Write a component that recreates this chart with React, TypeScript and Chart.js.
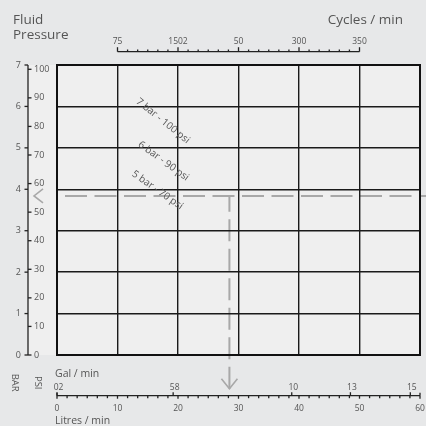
import React, { useEffect, useRef } from "react";
import { Chart, registerables } from "chart.js";

Chart.register(...registerables);

// ---- data ----
const litresTicks = [0, 10, 20, 30, 40, 50, 60];
const litresLabels = ["0", "10", "20", "30", "40", "50", "60"];
const litresMinorPerMajor = 6;
const barTicks = [0, 1, 2, 3, 4, 5, 6, 7];
const barLabels = ["0", "1", "2", "3", "4", "5", "6", "7"];
const psiTicks = [0, 10, 20, 30, 40, 50, 60, 70, 80, 90, 100];
const psiLabels = ["0", "10", "20", "30", "40", "50", "60", "70", "80", "90", "100"];
const psiPerBar = 14.5;
const cycleLabels = ["75", "1502", "50", "300", "350"];
const cyclePositions = [10, 20, 30, 40, 50]; // placed on the litres scale
const cycleMinorPerMajor = 6;
const galLabels = ["02", "58", "10", "13", "15"];
const galPositions = [0, 19.2, 38.8, 48.5, 58.4]; // litres equivalent
const curveLabels = ["7 bar - 100 psi", "6 bar - 90 psi", "5 bar - 70 psi"];
const curveFlow = [17.5, 17.6, 16.6];
const curvePressure = [5.65, 4.68, 3.98];
const curveAngles = [39, 36, 35];
const readingFlow = 28.5;
const readingPressure = 3.84;

const FONT = "'Open Sans', 'Noto Sans', sans-serif";
const TEXT = "#555";
const AXIS = "#222";

const diagram = {
  id: "diagram",
  beforeDraw(chart: any) {
    const { ctx, chartArea: a } = chart;
    const x = chart.scales.x;
    const y = chart.scales.y;
    ctx.save();
    ctx.fillStyle = "#e7e8e9";
    ctx.fillRect(0, 0, chart.width, chart.height);
    const axisX = a.left - 29;
    ctx.fillStyle = "#efefef";
    ctx.fillRect(axisX, a.top, a.right - axisX, a.bottom - a.top);

    // reading lines
    const rx = x.getPixelForValue(readingFlow);
    const ry = y.getPixelForValue(readingPressure);
    const bottomAxisY = a.bottom + 40.7;
    const tipY = bottomAxisY - 7;
    const tipX = axisX + 6;
    ctx.strokeStyle = "#a8a8a8";
    ctx.lineWidth = 2;
    ctx.setLineDash([22, 7.5]);
    ctx.beginPath();
    ctx.moveTo(a.left + 8, ry);
    ctx.lineTo(chart.width, ry);
    ctx.stroke();
    ctx.beginPath();
    ctx.moveTo(rx, tipY);
    ctx.lineTo(rx, ry);
    ctx.stroke();
    ctx.setLineDash([]);
    ctx.lineWidth = 1.6;
    ctx.beginPath();
    ctx.moveTo(tipX + 9, ry - 7);
    ctx.lineTo(tipX, ry);
    ctx.lineTo(tipX + 9, ry + 7);
    ctx.stroke();
    ctx.beginPath();
    ctx.moveTo(rx - 8, tipY - 10);
    ctx.lineTo(rx, tipY);
    ctx.lineTo(rx + 8, tipY - 10);
    ctx.stroke();
    ctx.restore();
  },
  afterDraw(chart: any) {
    const { ctx, chartArea: a } = chart;
    const x = chart.scales.x;
    const y = chart.scales.y;
    ctx.save();
    // outer border
    ctx.strokeStyle = "#111";
    ctx.lineWidth = 2;
    ctx.strokeRect(a.left, a.top, a.right - a.left, a.bottom - a.top);

    const line = (x1: number, y1: number, x2: number, y2: number) => {
      ctx.beginPath();
      ctx.moveTo(x1, y1);
      ctx.lineTo(x2, y2);
      ctx.stroke();
    };

    // ---- left axis (BAR / PSI) ----
    const axisX = a.left - 29;
    ctx.strokeStyle = AXIS;
    ctx.lineWidth = 1.3;
    line(axisX, y.getPixelForValue(barTicks[barTicks.length - 1]), axisX, y.getPixelForValue(0));
    ctx.fillStyle = TEXT;
    ctx.font = `9px ${FONT}`;
    ctx.textBaseline = "middle";
    barTicks.forEach((b, i) => {
      const py = y.getPixelForValue(b);
      line(axisX - 3.5, py, axisX, py);
      ctx.textAlign = "right";
      ctx.fillText(barLabels[i], axisX - 7, py);
    });
    psiTicks.forEach((p, i) => {
      const py = y.getPixelForValue(p / psiPerBar);
      line(axisX, py, axisX + 3.5, py);
      ctx.textAlign = "left";
      ctx.fillText(psiLabels[i], axisX + 6, py);
    });

    // ---- top axis (Cycles / min) ----
    const topY = a.top - 13.3;
    const c0 = x.getPixelForValue(cyclePositions[0]);
    const c1 = x.getPixelForValue(cyclePositions[cyclePositions.length - 1]);
    line(c0, topY, c1, topY);
    cyclePositions.forEach((c, i) => {
      const px = x.getPixelForValue(c);
      line(px, topY, px, topY - 4.5);
      if (i < cyclePositions.length - 1) {
        const step = (cyclePositions[i + 1] - c) / cycleMinorPerMajor;
        for (let k = 1; k < cycleMinorPerMajor; k++) {
          const mx = x.getPixelForValue(c + k * step);
          line(mx, topY, mx, topY - 2.2);
        }
      }
    });
    ctx.font = `8.5px ${FONT}`;
    ctx.textAlign = "center";
    ctx.textBaseline = "alphabetic";
    cyclePositions.forEach((c, i) => {
      ctx.fillText(cycleLabels[i], x.getPixelForValue(c), topY - 7.5);
    });

    // ---- bottom axis (Gal / Litres) ----
    const botY = a.bottom + 40.7;
    line(x.getPixelForValue(litresTicks[0]), botY, x.getPixelForValue(litresTicks[litresTicks.length - 1]), botY);
    litresTicks.forEach((l, i) => {
      const px = x.getPixelForValue(l);
      line(px, botY, px, botY + 3);
      if (i === 0 || i === litresTicks.length - 1) line(px, botY - 3, px, botY);
      if (i < litresTicks.length - 1) {
        const step = (litresTicks[i + 1] - l) / litresMinorPerMajor;
        for (let k = 1; k < litresMinorPerMajor; k++) {
          const mx = x.getPixelForValue(l + k * step);
          line(mx, botY, mx, botY + 2.5);
        }
      }
      ctx.fillText(litresLabels[i], px, botY + 15);
    });
    galPositions.forEach((g, i) => {
      const px = x.getPixelForValue(g);
      line(px, botY - 3.5, px, botY);
      ctx.fillText(galLabels[i], px + 1.5, botY - 6);
    });

    // ---- titles ----
    ctx.fillStyle = TEXT;
    ctx.font = `13.5px ${FONT}`;
    ctx.textAlign = "left";
    ctx.fillText("Fluid", 13, 24);
    ctx.fillText("Pressure", 13, 39);
    ctx.textAlign = "right";
    ctx.fillText("Cycles / min", 403, 24);
    ctx.textAlign = "left";
    ctx.font = `10.5px ${FONT}`;
    ctx.fillText("Gal / min", a.left - 2, botY - 19);
    ctx.fillText("Litres / min", a.left - 2, botY + 28);

    ctx.font = `9.5px ${FONT}`;
    ctx.textAlign = "center";
    ctx.textBaseline = "middle";
    [["BAR", axisX - 13], ["PSI", axisX + 9.5]].forEach(([t, cx]) => {
      ctx.save();
      ctx.translate(cx as number, botY - 13);
      ctx.rotate(Math.PI / 2);
      ctx.fillText(t as string, 0, 0);
      ctx.restore();
    });

    // ---- pressure curve labels ----
    ctx.font = `10px ${FONT}`;
    curveLabels.forEach((t, i) => {
      ctx.save();
      ctx.translate(x.getPixelForValue(curveFlow[i]), y.getPixelForValue(curvePressure[i]));
      ctx.rotate((curveAngles[i] * Math.PI) / 180);
      ctx.fillText(t, 0, 0);
      ctx.restore();
    });
    ctx.restore();
  },
};

export default function App() {
  const ref = useRef<HTMLCanvasElement>(null);
  useEffect(() => {
    const chart = new Chart(ref.current as HTMLCanvasElement, {
      type: "scatter",
      data: {
        datasets: [
          {
            data: [{ x: readingFlow, y: readingPressure }],
            pointRadius: 0,
          },
        ],
      },
      options: {
        animation: false,
        responsive: false,
        events: [],
        layout: { padding: { left: 57, top: 65, right: 6, bottom: 71 } },
        plugins: { legend: { display: false }, tooltip: { enabled: false } },
        scales: {
          x: {
            type: "linear",
            min: 0,
            max: 60,
            ticks: { display: false, stepSize: 10 },
            grid: { color: "#1a1a1a", lineWidth: 1.4, drawTicks: false },
            border: { display: false },
          },
          y: {
            type: "linear",
            min: 0,
            max: 7,
            ticks: { display: false, stepSize: 1 },
            grid: { color: "#1a1a1a", lineWidth: 1.4, drawTicks: false },
            border: { display: false },
          },
        },
      },
      plugins: [diagram],
    });
    return () => chart.destroy();
  }, []);
  return (
    <div style={{ position: "absolute", left: 0, top: 0, width: 426, height: 426, background: "#e7e8e9" }}>
      <canvas ref={ref} width={426} height={426} style={{ display: "block", width: 426, height: 426 }} />
    </div>
  );
}
